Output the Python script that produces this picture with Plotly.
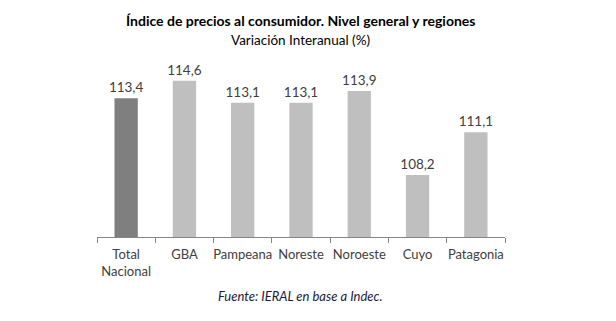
import plotly.graph_objects as go

categories = ["Total<br>Nacional", "GBA", "Pampeana", "Noreste", "Noroeste", "Cuyo", "Patagonia"]
values = [113.4, 114.6, 113.1, 113.1, 113.9, 108.2, 111.1]
colors = ["#7f7f7f"] + ["#bfbfbf"] * 6

FONT = "Lato, 'Open Sans', sans-serif"

fig = go.Figure(go.Bar(
    x=categories, y=values,
    marker=dict(color=colors, line=dict(width=0)),
    width=0.4,
    texttemplate="%{y:.1f}", textposition="outside",
    constraintext="none",
    textfont=dict(family=FONT, size=13.5, color="#404040"),
    cliponaxis=False,
))

fig.update_layout(
    width=616, height=321,
    margin=dict(l=97, r=111, t=60, b=84),
    paper_bgcolor="white", plot_bgcolor="white",
    separators=",.",
    showlegend=False,
    font=dict(family=FONT, size=13, color="#404040"),
    uniformtext=dict(minsize=13.5, mode="show"),
    xaxis=dict(
        type="category", showline=True, linecolor="#868686", linewidth=1,
        ticks="outside", tickson="boundaries", ticklen=5, tickcolor="#868686",
        tickangle=0, ticklabelstandoff=5,
        tickfont=dict(family=FONT, size=13, color="#404040"),
        showgrid=False,
    ),
    yaxis=dict(range=[104, 116], visible=False, showgrid=False),
    annotations=[
        dict(text="<b>Índice de precios al consumidor. Nivel general y regiones</b>",
             x=0.5, xref="paper", y=20, yref="paper", showarrow=False,
             font=dict(family=FONT, size=14, color="#000000")),
        dict(text="Variación Interanual (%)", x=0.5, xref="paper", y=0, yref="paper",
             showarrow=False, font=dict(family=FONT, size=13.5, color="#000000")),
        dict(text="<i>Fuente: IERAL en base a Indec.</i>", x=0.5, xref="paper", y=0, yref="paper",
             showarrow=False, font=dict(family=FONT, size=13, color="#1a1a3a")),
    ],
)

ph = 321 - 60 - 84
def py(pixel_y):
    return (321 - 84 - pixel_y) / ph
cx = (300 - 97) / (616 - 97 - 111)
fig.layout.annotations[0].update(y=py(20), x=cx, yanchor="middle")
fig.layout.annotations[1].update(y=py(40), x=cx, yanchor="middle")
fig.layout.annotations[2].update(y=py(296), x=cx, yanchor="middle")

fig.write_html("out.html")
